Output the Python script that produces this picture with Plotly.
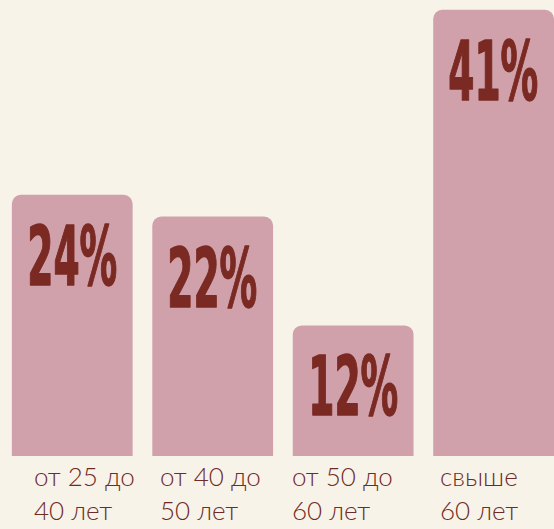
import plotly.graph_objects as go

categories = ["от 25 до<br>40 лет", "от 40 до<br>50 лет", "от 50 до<br>60 лет", "свыше<br>60 лет"]
values = [24, 22, 12, 41]
value_labels = ["24%", "22%", "12%", "41%"]
label_shift = [-40, -55, -63, -56]

BG = "#f8f3e9"
BAR = "#d0a1aa"
DARK = "#7a2a22"
LABEL = "#6e2c26"

x = list(range(len(values)))

fig = go.Figure(go.Bar(
    x=x, y=values,
    marker=dict(color=BAR, line=dict(width=0)),
    hoverinfo="skip",
))

annotations = []
for i, (v, t) in enumerate(zip(values, value_labels)):
    annotations.append(dict(
        x=i, y=v, xref="x", yref="y", text=t, showarrow=False,
        xanchor="center", yanchor="top", yshift=-12,
        font=dict(family="DejaVu Sans Condensed, DejaVu Sans, sans-serif",
                  size=82, color=DARK, weight="bold"),
    ))
    annotations.append(dict(
        x=i, y=0, xref="x", yref="y", text=categories[i], showarrow=False,
        xanchor="left", yanchor="top", align="left", yshift=-2, xshift=label_shift[i],
        font=dict(family="Lato, Noto Sans, sans-serif", size=26, color=LABEL, weight=300),
    ))

fig.update_layout(
    width=554, height=529,
    margin=dict(l=2, r=0, t=0, b=73),
    paper_bgcolor=BG, plot_bgcolor=BG,
    bargap=0.14, barcornerradius=9,
    showlegend=False,
    xaxis=dict(range=[-0.5, 3.43], visible=False, fixedrange=True),
    yaxis=dict(range=[0, 41.9], visible=False, fixedrange=True),
    annotations=annotations,
)

post = """
document.body.style.margin='0';
document.body.style.background='%s';
document.body.style.overflow='hidden';
var gd = document.getElementById('{plot_id}');
function squeeze(){
  var ts = gd.querySelectorAll('text.annotation-text');
  ts.forEach(function(t){
    if (t.textContent.indexOf('%%') >= 0) {
      var bb = t.getBBox();
      var cx = bb.x + bb.width/2;
      var s = 0.51;
      t.setAttribute('transform', 'matrix(' + s + ',0,0,1,' + (cx*(1-s)) + ',0)');
      t.style.stroke = '%s';
      t.style.strokeWidth = '1.5px';
      t.style.strokeLinejoin = 'round';
    }
  });
}
squeeze();
""" % (BG, DARK)

fig.write_html("out.html", post_script=post, config={"displayModeBar": False, "staticPlot": True})
